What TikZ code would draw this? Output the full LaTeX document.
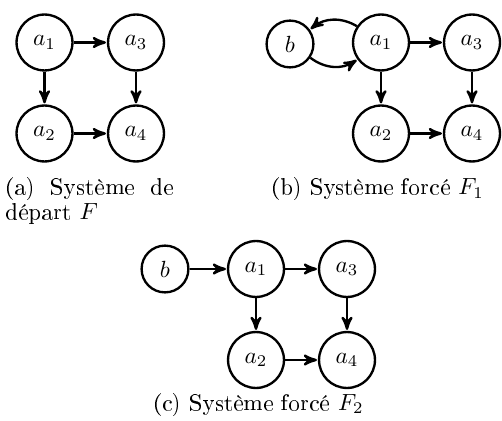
\documentclass[tikz,border=0pt]{standalone}
\usepackage[T1]{fontenc}
\usepackage{amsmath, amssymb}
\usetikzlibrary{calc,shapes,arrows}

\tikzset{
  etat/.style={circle, draw, line width=1pt, minimum size=23.9pt, inner sep=0pt},
  etatb/.style={circle, draw, line width=1pt, minimum size=20pt, inner sep=0pt},
  fleche/.style={-stealth', line width=1pt, shorten >=0.4pt},
  legende/.style={inner sep=0pt}
}

\begin{document}
\begin{tikzpicture}[x=0.4274pt, y=-0.4274pt]
    \useasboundingbox (0,0) rectangle (502,421);

    % (a) systeme de depart
    \node[etat] (a1) at (44.5,42.5) {$a_1$};
    \node[etat] (a3) at (136,42.5) {$a_3$};
    \node[etat] (a2) at (44.5,133.5) {$a_2$};
    \node[etat] (a4) at (136,133.5) {$a_4$};
    \draw[fleche] (a1) -- (a3);
    \draw[fleche] (a1) -- (a2);
    \draw[fleche] (a3) -- (a4);
    \draw[fleche] (a2) -- (a4);
    \node[legende, anchor=base west, text width=72pt, align=justify,
          font={\hyphenpenalty=10000\relax\baselineskip=9pt\relax}] (capa) at (5,195)
        {(a) Système de départ $F$};

    % (b) systeme force F1
    \node[etatb] (b1) at (290,44) {$b$};
    \node[etat] (b1a1) at (381,42.5) {$a_1$};
    \node[etat] (b1a3) at (472,42.5) {$a_3$};
    \node[etat] (b1a2) at (381,133.5) {$a_2$};
    \node[etat] (b1a4) at (472,133.5) {$a_4$};
    \draw[fleche] (b1a1) to[bend right=35] (b1);
    \draw[fleche] (b1) to[bend right=35] (b1a1);
    \draw[fleche] (b1a1) -- (b1a3);
    \draw[fleche] (b1a1) -- (b1a2);
    \draw[fleche] (b1a3) -- (b1a4);
    \draw[fleche] (b1a2) -- (b1a4);
    \node[legende, anchor=base] (capb) at (377.5,195) {(b) Système forcé $F_1$};

    % (c) systeme force F2
    \node[etatb] (b2) at (165,269) {$b$};
    \node[etat] (b2a1) at (256,269) {$a_1$};
    \node[etat] (b2a3) at (347,269) {$a_3$};
    \node[etat] (b2a2) at (256,360) {$a_2$};
    \node[etat] (b2a4) at (347,360) {$a_4$};
    \draw[fleche] (b2) -- (b2a1);
    \draw[fleche] (b2a1) -- (b2a3);
    \draw[fleche] (b2a1) -- (b2a2);
    \draw[fleche] (b2a3) -- (b2a4);
    \draw[fleche] (b2a2) -- (b2a4);
    \node[legende, anchor=base] (capc) at (258.5,410) {(c) Système forcé $F_2$};
\end{tikzpicture}
\end{document}
